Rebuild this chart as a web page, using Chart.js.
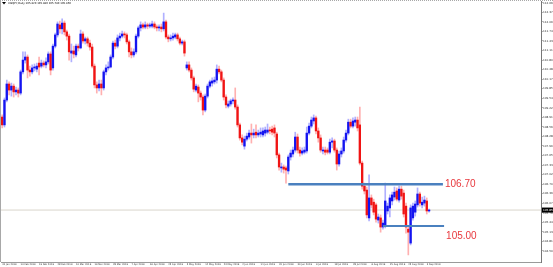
<!DOCTYPE html>
<html>
<head>
<meta charset="utf-8">
<script src="https://cdn.jsdelivr.net/npm/chart.js@4.4.1/dist/chart.umd.min.js"></script>
<style>
  html, body { margin: 0; padding: 0; background: #fff; }
  canvas { display: block; }
</style>
</head>
<body>
<canvas id="chart" width="553" height="267"></canvas>
<script>
var symbolName = 'USDJPY,Daily';

// daily candles, 31 Jan 2019 .. 4 Sep 2019 (broker feed with Sunday bars)
var openPrices = [
  108.92, 108.66, 109.48, 110.01, 109.81, 109.94, 109.75, 109.81, 109.71, 110.41,
  110.80, 110.90, 110.47, 110.41, 110.54, 110.50, 110.70, 110.60, 110.70, 110.64,
  110.74, 111.00, 110.54, 111.26, 111.63, 111.96, 111.83, 112.02, 111.73, 111.59,
  111.03, 111.10, 110.97, 111.26, 111.20, 111.66, 111.43, 111.50, 111.36, 111.23,
  110.60, 109.98, 109.88, 110.01, 109.88, 110.41, 110.54, 110.57, 110.90, 111.36,
  111.26, 111.53, 111.59, 111.66, 111.63, 111.40, 111.07, 110.97, 111.07, 111.59,
  111.86, 111.96, 111.89, 111.96, 111.92, 111.92, 111.99, 111.89, 111.86, 111.89,
  111.83, 112.06, 111.56, 111.50, 111.53, 111.56, 111.63, 111.50, 111.36, 111.40,
  110.54, 110.64, 110.47, 110.21, 109.81, 109.91, 109.71, 109.58, 109.15, 109.61,
  109.94, 110.04, 110.08, 110.14, 110.50, 110.41, 110.14, 109.58, 109.28, 109.35,
  109.45, 109.48, 109.25, 108.66, 108.23, 107.96, 108.19, 108.26, 108.39, 108.33,
  108.42, 108.33, 108.36, 108.33, 108.39, 108.42, 108.49, 108.52, 108.56, 108.36,
  107.67, 107.24, 107.27, 107.24, 107.14, 107.60, 107.70, 107.83, 108.26, 107.83,
  107.73, 107.76, 107.80, 108.39, 108.62, 108.79, 108.89, 108.46, 108.23, 107.80,
  107.83, 107.83, 107.76, 108.09, 108.13, 107.83, 107.37, 107.70, 107.80, 108.16,
  108.39, 108.75, 108.62, 108.75, 108.82, 108.66, 107.40, 106.64, 106.51, 105.59,
  106.25, 106.11, 106.02, 105.52, 105.59, 105.29, 105.32, 105.82, 105.92, 106.15,
  106.28, 106.48, 106.18, 106.54, 106.41, 105.98, 105.22, 104.76, 105.59, 105.78,
  106.02, 106.38, 106.02, 106.08, 106.15, 105.82
];
var highPrices = [
  108.99, 109.55, 110.14, 110.08, 110.04, 110.01, 109.91, 109.88, 110.47, 111.07,
  111.07, 110.97, 110.60, 110.64, 110.67, 110.70, 110.90, 110.80, 110.77, 110.87,
  111.07, 111.07, 111.33, 111.69, 112.06, 112.09, 112.16, 112.09, 111.79, 111.66,
  111.33, 111.26, 111.33, 111.33, 111.79, 111.73, 111.56, 111.56, 111.46, 111.33,
  110.67, 110.08, 110.14, 110.14, 110.47, 110.64, 110.74, 110.97, 111.43, 111.46,
  111.63, 111.69, 111.76, 111.73, 111.69, 111.46, 111.20, 111.17, 111.66, 111.92,
  112.06, 112.02, 112.06, 112.02, 112.02, 112.09, 112.06, 111.96, 111.96, 111.99,
  112.35, 112.12, 111.63, 111.63, 111.69, 111.69, 111.69, 111.56, 111.46, 111.46,
  110.74, 110.74, 110.54, 110.27, 110.01, 109.98, 109.78, 109.65, 109.68, 110.01,
  110.14, 110.21, 110.24, 110.64, 110.60, 110.47, 110.21, 109.65, 109.45, 109.51,
  109.55, 109.88, 109.32, 108.72, 108.33, 108.29, 108.39, 108.49, 108.69, 108.52,
  108.66, 108.49, 108.56, 108.56, 108.59, 108.69, 108.59, 108.62, 108.66, 108.42,
  107.73, 107.40, 107.34, 107.30, 107.67, 107.83, 107.93, 108.42, 108.36, 107.93,
  107.90, 107.93, 108.59, 108.72, 108.92, 108.99, 108.95, 108.56, 108.33, 107.93,
  107.93, 107.90, 108.19, 108.23, 108.19, 107.90, 107.80, 107.90, 108.26, 108.49,
  108.85, 108.85, 108.89, 108.92, 108.92, 109.25, 107.47, 106.74, 106.61, 107.01,
  106.35, 106.21, 106.08, 105.72, 105.69, 105.52, 106.74, 106.08, 106.35, 106.44,
  106.61, 106.58, 106.64, 106.64, 106.51, 106.08, 105.32, 106.02, 106.08, 106.15,
  106.58, 106.44, 106.28, 106.31, 106.25, 105.88
];
var lowPrices = [
  108.56, 108.59, 109.42, 109.65, 109.61, 109.58, 109.65, 109.58, 109.65, 110.34,
  110.70, 110.21, 110.27, 110.34, 110.44, 110.41, 110.31, 110.54, 110.57, 110.54,
  110.67, 110.31, 110.47, 111.20, 111.56, 111.69, 111.66, 111.63, 111.46, 110.80,
  110.74, 110.87, 110.90, 111.10, 111.17, 111.36, 111.33, 111.26, 111.13, 110.54,
  109.88, 109.71, 109.78, 109.65, 109.81, 110.31, 110.47, 110.54, 110.84, 111.17,
  111.20, 111.43, 111.53, 111.53, 111.33, 110.90, 110.87, 110.90, 111.00, 111.53,
  111.76, 111.83, 111.83, 111.83, 111.86, 111.86, 111.83, 111.76, 111.76, 111.73,
  111.76, 111.50, 111.40, 111.43, 111.46, 111.50, 111.43, 111.30, 111.30, 110.93,
  110.47, 110.41, 110.14, 109.75, 109.75, 109.42, 109.48, 108.99, 109.09, 109.55,
  109.88, 109.94, 110.01, 110.04, 110.34, 110.08, 109.48, 109.22, 109.22, 109.28,
  109.35, 109.18, 108.59, 108.16, 108.00, 107.86, 108.13, 108.19, 108.06, 108.23,
  108.23, 108.26, 108.26, 108.26, 108.29, 108.36, 108.36, 108.33, 108.26, 107.57,
  107.17, 107.10, 107.07, 106.74, 107.04, 107.50, 107.60, 107.76, 107.73, 107.63,
  107.67, 107.70, 107.73, 108.33, 108.56, 108.69, 108.36, 108.09, 107.76, 107.70,
  107.67, 107.70, 107.70, 107.90, 107.76, 107.17, 107.30, 107.60, 107.73, 108.09,
  108.33, 108.56, 108.56, 108.62, 108.46, 107.34, 106.54, 106.38, 105.59, 105.49,
  105.92, 105.69, 105.45, 105.42, 105.12, 105.22, 105.26, 105.72, 105.62, 106.02,
  106.18, 106.15, 106.11, 106.21, 105.62, 105.09, 104.37, 104.70, 105.52, 105.65,
  105.95, 105.98, 105.92, 105.98, 105.72, 105.78
];
var closePrices = [
  108.66, 109.48, 110.01, 109.81, 109.94, 109.75, 109.81, 109.71, 110.41, 110.80,
  110.90, 110.47, 110.41, 110.54, 110.57, 110.60, 110.57, 110.70, 110.64, 110.74,
  111.00, 110.47, 111.26, 111.63, 111.99, 111.83, 112.02, 111.73, 111.59, 111.07,
  111.10, 111.00, 111.26, 111.20, 111.66, 111.43, 111.50, 111.36, 111.23, 110.60,
  109.98, 109.88, 110.01, 109.88, 110.41, 110.54, 110.57, 110.90, 111.36, 111.26,
  111.53, 111.59, 111.66, 111.63, 111.40, 111.07, 110.97, 111.07, 111.59, 111.86,
  111.96, 111.89, 111.96, 111.92, 111.96, 111.99, 111.89, 111.86, 111.89, 111.83,
  112.06, 111.56, 111.50, 111.53, 111.59, 111.63, 111.50, 111.36, 111.40, 111.03,
  110.64, 110.47, 110.21, 109.84, 109.94, 109.71, 109.58, 109.15, 109.61, 109.94,
  110.08, 110.11, 110.14, 110.50, 110.41, 110.14, 109.58, 109.32, 109.35, 109.45,
  109.48, 109.25, 108.66, 108.23, 108.09, 108.19, 108.29, 108.39, 108.33, 108.39,
  108.33, 108.39, 108.42, 108.46, 108.49, 108.49, 108.46, 108.42, 108.39, 107.67,
  107.27, 107.27, 107.20, 107.17, 107.60, 107.73, 107.83, 108.26, 107.83, 107.73,
  107.80, 107.83, 108.39, 108.62, 108.82, 108.89, 108.46, 108.23, 107.83, 107.83,
  107.76, 107.76, 108.09, 108.13, 107.83, 107.37, 107.70, 107.80, 108.16, 108.39,
  108.75, 108.62, 108.79, 108.82, 108.56, 107.40, 106.64, 106.48, 105.69, 106.25,
  106.02, 105.78, 105.55, 105.62, 105.29, 105.42, 106.15, 105.98, 106.25, 106.35,
  106.44, 106.21, 106.54, 106.31, 105.72, 105.29, 105.12, 105.92, 105.98, 106.05,
  106.38, 106.08, 106.11, 106.18, 105.82, 105.85
];

// one date label every 8 bars, first one on bar 0
var dateLabels = [
  '31 Jan 2019', '10 Feb 2019', '19 Feb 2019', '28 Feb 2019', '10 Mar 2019', '19 Mar 2019',
  '28 Mar 2019', '7 Apr 2019', '16 Apr 2019', '25 Apr 2019', '5 May 2019', '14 May 2019',
  '23 May 2019', '2 Jun 2019', '11 Jun 2019', '20 Jun 2019', '30 Jun 2019', '9 Jul 2019',
  '18 Jul 2019', '28 Jul 2019', '6 Aug 2019', '15 Aug 2019', '25 Aug 2019', '3 Sep 2019'
];
var priceTicks = [
  112.690, 112.375, 112.060, 111.745, 111.430, 111.115, 110.800, 110.485, 110.170,
  109.855, 109.540, 109.225, 108.910, 108.595, 108.280, 107.965, 107.650, 107.335,
  107.020, 106.705, 106.390, 106.075, 105.760, 105.445, 105.130, 104.815, 104.500
];

// drawn horizontal levels (bar index from / to) and their text objects
var levelPrices = [106.70, 105.32];
var levelFrom = [124, 165];
var levelTo = [191, 191.5];
var levelTexts = ['106.70', '105.00'];
var levelTextPrices = [106.70, 105.00];

var barSlots = 234;   // visible bar slots incl. chart shift
var labelEvery = 8;
var priceMin = 104.136, priceMax = 112.749;

var upBody = '#1414f0', downBody = '#f01414';
var upWick = '#b0b0ff', downWick = '#ffb0b0';
var levelColor = '#4a80bf';

var bodies = [], wicks = [], bodyColors = [], wickColors = [];
for (var i = 0; i < closePrices.length; i++) {
  var up = closePrices[i] >= openPrices[i];
  bodies.push({x: i, y: [openPrices[i], closePrices[i]]});
  wicks.push({x: i, y: [lowPrices[i], highPrices[i]]});
  bodyColors.push(up ? upBody : downBody);
  wickColors.push(up ? upWick : downWick);
}
var lastIdx = closePrices.length - 1;
var lastClose = closePrices[lastIdx];

var levelSets = levelPrices.map(function(p, k) {
  return {
    type: 'line',
    data: [{x: levelFrom[k], y: p}, {x: levelTo[k], y: p}],
    borderColor: levelColor,
    borderWidth: k === 0 ? 2.5 : 2,
    pointRadius: 0,
    order: -1
  };
});

var decor = {
  id: 'mt4Decor',
  afterDraw: function(chart) {
    var ctx = chart.ctx, a = chart.chartArea;
    var xs = chart.scales.x, ys = chart.scales.y;
    ctx.save();
    ctx.strokeStyle = '#a8a8a8';
    ctx.lineWidth = 1;
    ctx.setLineDash([1, 1]);
    ctx.beginPath(); ctx.moveTo(0, 0.5); ctx.lineTo(chart.width, 0.5); ctx.stroke();
    ctx.setLineDash([]);
    ctx.beginPath(); ctx.moveTo(0.5, 0); ctx.lineTo(0.5, a.bottom); ctx.stroke();

    // text objects next to the levels
    ctx.font = '10px "Liberation Sans", Arial, sans-serif';
    ctx.fillStyle = '#e8383d';
    ctx.textAlign = 'left';
    ctx.textBaseline = 'middle';
    levelTexts.forEach(function(t, k) {
      ctx.fillText(t, xs.getPixelForValue(levelTo[k]) + 2, ys.getPixelForValue(levelTextPrices[k]));
    });

    // current price marker on the price scale
    var y = ys.getPixelForValue(lastClose);
    ctx.fillStyle = '#000';
    ctx.fillRect(a.right + 1, y - 2.5, chart.width - a.right - 1, 5);
    ctx.fillStyle = '#fff';
    ctx.font = '2.8px "DejaVu Sans", sans-serif';
    ctx.fillText(lastClose.toFixed(3), a.right + 2, y);

    // window title
    ctx.fillStyle = '#000';
    ctx.beginPath(); ctx.moveTo(2, 2); ctx.lineTo(6, 2); ctx.lineTo(4, 4.5); ctx.closePath(); ctx.fill();
    ctx.font = '2.6px "DejaVu Sans", sans-serif';
    ctx.fillText(symbolName + ' ' + [openPrices[lastIdx], highPrices[lastIdx], lowPrices[lastIdx], closePrices[lastIdx]]
      .map(function(v) { return v.toFixed(3); }).join(' '), 8, 3.3);
    ctx.restore();
  }
};

var ctxC = document.getElementById('chart').getContext('2d');
var chart = new Chart(ctxC, {
  type: 'bar',
  data: {
    datasets: levelSets.concat([
      {
        type: 'bar', data: bodies, backgroundColor: bodyColors,
        barThickness: 1.7, grouped: false, minBarLength: 1, borderWidth: 0, order: 1
      },
      {
        type: 'bar', data: wicks, backgroundColor: wickColors,
        barThickness: 1, grouped: false, borderWidth: 0, order: 2
      },
      {
        type: 'line', data: [{x: -0.5, y: lastClose}, {x: barSlots - 0.5, y: lastClose}],
        borderColor: '#d9d5cb', borderWidth: 1, pointRadius: 0, order: 3
      }
    ])
  },
  options: {
    responsive: false,
    animation: false,
    devicePixelRatio: 1,
    layout: { padding: { top: 1, left: 1, right: 0, bottom: 0 } },
    plugins: { legend: { display: false }, tooltip: { enabled: false }, title: { display: false } },
    scales: {
      x: {
        type: 'linear', min: -0.5, max: barSlots - 0.5, offset: false, position: 'bottom',
        grid: { drawOnChartArea: false, drawTicks: true, tickLength: 1, color: '#888' },
        border: { display: true, color: '#9a9a9a', dash: [1, 1] },
        ticks: {
          autoSkip: false, maxRotation: 0, minRotation: 0, align: 'start', padding: 0,
          color: '#333', font: { size: 2.4, family: 'DejaVu Sans' },
          callback: function(v) { return dateLabels[v / labelEvery] || ''; }
        },
        afterBuildTicks: function(s) {
          s.ticks = dateLabels.map(function(d, k) { return { value: k * labelEvery }; });
        },
        afterFit: function(s) { s.height = 5; s.paddingLeft = 0; s.paddingRight = 0; }
      },
      y: {
        type: 'linear', position: 'right', min: priceMin, max: priceMax,
        grid: { drawOnChartArea: false, drawTicks: true, tickLength: 1.5, color: '#666' },
        border: { display: true, color: '#777' },
        ticks: {
          padding: 0.5, color: '#333', font: { size: 2.8, family: 'DejaVu Sans' },
          callback: function(v) { return v.toFixed(3); }
        },
        afterBuildTicks: function(s) {
          s.ticks = priceTicks.map(function(v) { return { value: v }; });
        },
        afterFit: function(s) { s.width = 12; s.paddingTop = 0; s.paddingBottom = 0; }
      }
    }
  },
  plugins: [decor]
});
</script>
</body>
</html>
